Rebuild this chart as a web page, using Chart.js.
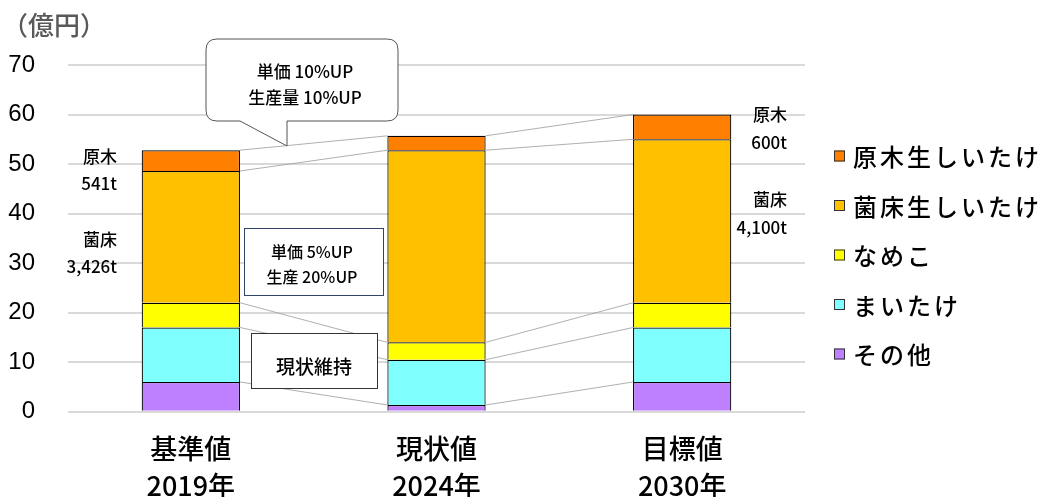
<!DOCTYPE html>
<html>
<head>
<meta charset="utf-8">
<script src="https://cdn.jsdelivr.net/npm/chart.js@4.4.1/dist/chart.umd.min.js"></script>
<style>
  html, body { margin: 0; padding: 0; background: #fff; }
  #wrap { width: 1048px; height: 497px; position: relative; }
</style>
</head>
<body>
<div id="wrap"><canvas id="c" width="1048" height="497"></canvas></div>
<script>
// ---- data ----
const categories = [['基準値', '2019年'], ['現状値', '2024年'], ['目標値', '2030年']];
const seriesNames = ['その他', 'まいたけ', 'なめこ', '菌床生しいたけ', '原木生しいたけ'];
const sonota  = [6.0, 1.35, 6.0];
const maitake = [11.0, 9.15, 11.0];
const nameko  = [5.0, 3.5, 5.0];
const kinsho  = [26.6, 38.8, 33.0];
const genboku = [4.2, 2.9, 5.0];
const seriesColors = ['#BF80FF', '#80FFFF', '#FFFF00', '#FFC000', '#FF7F00'];
const yMin = 0, yMax = 70, yStep = 10;
const yTitle = '（億円）';
const calloutLines = ['単価 10%UP', '生産量 10%UP'];
const box1Lines = ['単価 5%UP', '生産 20%UP'];
const box2Lines = ['現状維持'];
const leftLabels = [['原木', 157], ['541t', 184], ['菌床', 240], ['3,426t', 267]];
const rightLabels = [['原木', 115], ['600t', 143], ['菌床', 200], ['4,100t', 228]];

const JP = '"Noto Sans CJK JP", "Noto Sans", sans-serif';

const seriesValues = [sonota, maitake, nameko, kinsho, genboku];

const overlay = {
  id: 'overlay',
  afterDatasetsDraw(chart) {
    const ctx = chart.ctx;
    const metas = chart.data.datasets.map((d, i) => chart.getDatasetMeta(i));
    // connecting lines
    ctx.save();
    ctx.strokeStyle = '#9a9a9a';
    ctx.lineWidth = 0.8;
    metas.forEach(meta => {
      for (let j = 0; j < meta.data.length - 1; j++) {
        const a = meta.data[j], b = meta.data[j + 1];
        ctx.beginPath();
        ctx.moveTo(a.x + a.width / 2, a.y);
        ctx.lineTo(b.x - b.width / 2, b.y);
        ctx.stroke();
      }
    });
    ctx.restore();

    // speech-bubble callout
    ctx.save();
    const L = 206, T = 39, R = 398, B = 121, r = 11;
    ctx.beginPath();
    ctx.moveTo(L + r, T);
    ctx.lineTo(R - r, T);
    ctx.quadraticCurveTo(R, T, R, T + r);
    ctx.lineTo(R, B - r);
    ctx.quadraticCurveTo(R, B, R - r, B);
    ctx.lineTo(287, B);
    ctx.lineTo(287, 146);
    ctx.lineTo(240, B);
    ctx.lineTo(L + r, B);
    ctx.quadraticCurveTo(L, B, L, B - r);
    ctx.lineTo(L, T + r);
    ctx.quadraticCurveTo(L, T, L + r, T);
    ctx.closePath();
    ctx.fillStyle = '#fff';
    ctx.fill();
    ctx.strokeStyle = '#555';
    ctx.lineWidth = 1;
    ctx.stroke();
    ctx.fillStyle = '#000';
    ctx.font = '500 17px ' + JP;
    ctx.textAlign = 'center';
    ctx.textBaseline = 'middle';
    ctx.fillText(calloutLines[0], 305, 72);
    ctx.fillText(calloutLines[1], 305, 98);
    ctx.restore();

    // box 1
    ctx.save();
    ctx.fillStyle = '#fff';
    ctx.fillRect(244, 228, 139, 67);
    ctx.strokeStyle = '#2F4466';
    ctx.lineWidth = 1;
    ctx.strokeRect(244.5, 228.5, 139, 67);
    ctx.fillStyle = '#000';
    ctx.font = '500 16px ' + JP;
    ctx.textAlign = 'center';
    ctx.textBaseline = 'middle';
    ctx.fillText(box1Lines[0], 312, 252);
    ctx.fillText(box1Lines[1], 312, 277);
    ctx.restore();

    // box 2
    ctx.save();
    ctx.fillStyle = '#fff';
    ctx.fillRect(251, 333, 126, 55);
    ctx.strokeStyle = '#333';
    ctx.lineWidth = 1;
    ctx.strokeRect(251.5, 333.5, 126, 55);
    ctx.fillStyle = '#000';
    ctx.font = '500 19px ' + JP;
    ctx.textAlign = 'center';
    ctx.textBaseline = 'middle';
    ctx.fillText(box2Lines[0], 314, 367);
    ctx.restore();

    // side labels
    ctx.save();
    ctx.fillStyle = '#000';
    ctx.font = '500 17px ' + JP;
    ctx.textAlign = 'right';
    ctx.textBaseline = 'middle';
    leftLabels.forEach(([t, y]) => ctx.fillText(t, 117, y));
    rightLabels.forEach(([t, y]) => ctx.fillText(t, 787, y));
    ctx.restore();

    // y title
    ctx.save();
    ctx.fillStyle = '#595959';
    ctx.font = '500 26px ' + JP;
    ctx.textAlign = 'left';
    ctx.textBaseline = 'middle';
    ctx.fillText(yTitle, 2, 25);
    ctx.restore();

    // legend (reversed order)
    ctx.save();
    ctx.font = '500 24px ' + JP;
    ctx.textAlign = 'left';
    ctx.textBaseline = 'middle';
    try { ctx.letterSpacing = '3px'; } catch (e) {}
    const ds = chart.data.datasets.slice().reverse();
    ds.forEach((d, k) => {
      const cy = 156 + k * 49.5;
      ctx.fillStyle = d.backgroundColor;
      ctx.fillRect(834, cy - 5.5, 11, 11);
      ctx.strokeStyle = '#333';
      ctx.lineWidth = 1;
      ctx.strokeRect(834.5, cy - 5, 10, 10);
      ctx.fillStyle = '#000';
      ctx.fillText(d.label, 853, cy + 1);
    });
    ctx.restore();
  }
};

new Chart(document.getElementById('c'), {
  type: 'bar',
  data: {
    labels: categories,
    datasets: seriesNames.map((name, i) => ({
      label: name,
      data: seriesValues[i],
      backgroundColor: seriesColors[i],
      borderColor: '#000',
      borderWidth: 1.2,
      categoryPercentage: 1.0,
      barPercentage: 0.4
    }))
  },
  options: {
    responsive: false,
    animation: false,
    devicePixelRatio: 1,
    layout: { padding: { top: 65, right: 243, left: 0, bottom: 0 } },
    plugins: { legend: { display: false }, tooltip: { enabled: false } },
    scales: {
      x: {
        stacked: true,
        grid: { display: false, drawTicks: false },
        border: { display: false },
        ticks: {
          color: '#000',
          font: { family: JP, size: 27, weight: '500', lineHeight: 1.35 },
          padding: 19,
          maxRotation: 0
        },
        afterFit(scale) { scale.height = 85.3; }
      },
      y: {
        stacked: true,
        min: yMin, max: yMax,
        grid: { color: '#D9D9D9', lineWidth: 2, drawTicks: false },
        border: { display: false },
        ticks: {
          stepSize: yStep,
          color: '#000',
          font: { family: "'Liberation Sans', Arial, sans-serif", size: 24 },
          padding: 33
        },
        afterFit(scale) { scale.width = 68; }
      }
    }
  },
  plugins: [overlay]
});
</script>
</body>
</html>
